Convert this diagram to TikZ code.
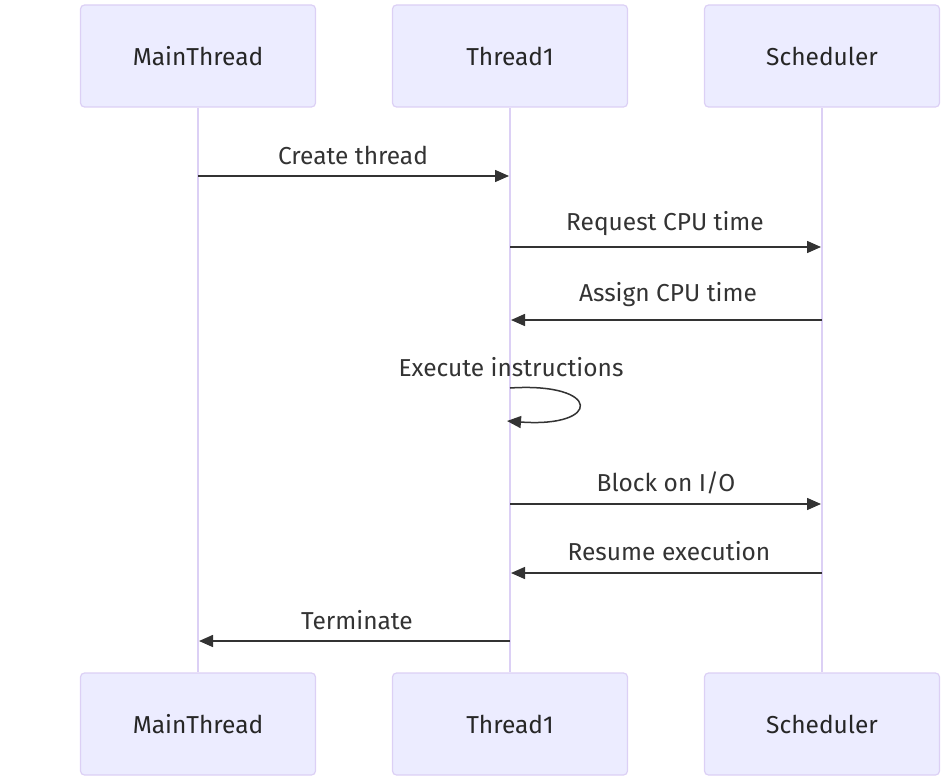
\documentclass[tikz,border=0pt]{standalone}
\usepackage{fontspec}
\setmainfont{Fira Sans}
\usetikzlibrary{arrows.meta}
\definecolor{actfill}{HTML}{ECECFF}
\definecolor{actdraw}{HTML}{DCD0F5}
\definecolor{msgcol}{HTML}{333333}
\tikzset{
  actor/.style={draw=actdraw, line width=1.2pt, fill=actfill, rounded corners=4pt,
    minimum width=235pt, minimum height=102pt, inner sep=0pt, font=\fontsize{24.5}{28}\selectfont, text=black!85},
  life/.style={draw=actdraw, line width=1.8pt},
  msg/.style={draw=msgcol, line width=1.5pt, -{Triangle[length=14pt,width=12pt]}},
  lbl/.style={font=\fontsize{24.5}{28}\selectfont, text=msgcol, inner sep=0pt}
}
\begin{document}
\begin{tikzpicture}[x=1pt,y=-1pt]
\useasboundingbox (0,0) rectangle (952,781);
\node[actor] (a1) at (198,56) {MainThread};
\node[actor] (a2) at (510,56) {Thread1};
\node[actor] (a3) at (822,56) {Scheduler};
\node[actor] (b1) at (198,724) {MainThread};
\node[actor] (b2) at (510,724) {Thread1};
\node[actor] (b3) at (822,724) {Scheduler};
\draw[life] (a1) -- (b1);
\draw[life] (a2) -- (b2);
\draw[life] (a3) -- (b3);
% messages
\coordinate (m1s) at (198,176); \coordinate (m1e) at (509,176);
\draw[msg] (m1s) -- (m1e);
\node[lbl] (l1) at (353,155) {Create thread};
\coordinate (m2s) at (510,247); \coordinate (m2e) at (821,247);
\draw[msg] (m2s) -- (m2e);
\node[lbl] (l2) at (665,224) {Request CPU time};
\coordinate (m3s) at (822,320); \coordinate (m3e) at (511,320);
\draw[msg] (m3s) -- (m3e);
\node[lbl] (l3) at (668,295) {Assign CPU time};
\node[lbl] (l4) at (511,367) {Execute instructions};
\coordinate (m4s) at (510,388); \coordinate (m4e) at (507,421);
\draw[msg] (m4s) .. controls (602,382) and (602,428) .. (m4e);
\coordinate (m5s) at (510,504); \coordinate (m5e) at (821,504);
\draw[msg] (m5s) -- (m5e);
\node[lbl] (l5) at (666,483) {Block on I/O};
\coordinate (m6s) at (822,573); \coordinate (m6e) at (511,573);
\draw[msg] (m6s) -- (m6e);
\node[lbl] (l6) at (669,551) {Resume execution};
\coordinate (m7s) at (510,641); \coordinate (m7e) at (199,641);
\draw[msg] (m7s) -- (m7e);
\node[lbl] (l7) at (357,620) {Terminate};
\end{tikzpicture}
\end{document}
